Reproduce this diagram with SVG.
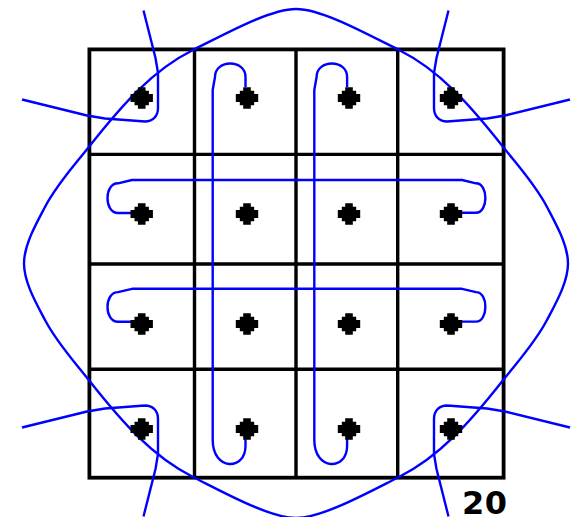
<svg xmlns="http://www.w3.org/2000/svg" xmlns:xlink="http://www.w3.org/1999/xlink" width="580" height="517" viewBox="0 0 580 517">
<defs>
<style>
.grid{fill:none;stroke:#000;stroke-width:3.4}
.border{fill:none;stroke:#000;stroke-width:3.8}
.wire{fill:none;stroke:#0000ff;stroke-width:2.4;stroke-linejoin:round}
.dot{fill:#000}
.label{font-family:"DejaVu Sans","Liberation Sans",sans-serif;font-weight:bold;font-size:32px;fill:#000}
</style>
<path id="dotshape" d="M-3.8,-10.8 H3.8 V-7.3 H7.2 V-4 H11.2 V4 H7.2 V7.3 H3.8 V10.8 H-3.8 V7.3 H-7.2 V4 H-11.2 V-4 H-7.2 V-7.3 H-3.8 Z"/>
<path id="corner" d="M22,99.5 L87,115.5 L105,118.5 L145,121.5 C152,121.5 158,117 158,108 V73 L155.5,58 L143.5,10.5"/>
<path id="vpin" d="M245.5,87 V77 C245.5,59 215,59 215,77 L212.7,90 V440 C212.7,471 245.5,471 245.5,446 V439"/>
<path id="hpin" d="M132,213 H118 C104,213 104,183.3 118,183.3 L132,180 H462 L476,183.3 C488.5,183.3 488.5,212.8 476,212.8 H462"/>
</defs>
<rect width="580" height="517" fill="#fff"/>
<g id="grid">
<rect class="border" x="89.4" y="49.4" width="414.2" height="428.3"/>
<path class="grid" d="M194.5,49.4 V477.7 M296,49.4 V477.7 M397.7,49.4 V477.7 M89.4,154.4 H503.6 M89.4,264 H503.6 M89.4,369.3 H503.6"/>
</g>
<g id="connectors">
<path id="outer-loop" class="wire" d="M296,9 C270,9 225,34 193,50 C153,70 123,103.5 88,148 C73,167 57,184.2 45,207 C36,224.1 24,245 24,263.5 C24,282 36,302.9 45,320 C57,342.8 73,360 88,379 C123,423.5 153,457 193,477 C225,493 270,518 296,518 C322,518 367,493 399,477 C439,457 469,423.5 504,379 C519,360 535,342.8 547,320 C556,302.9 568,282 568,263.5 C568,245 556,224.1 547,207 C535,184.2 519,167 504,148 C469,103.5 439,70 399,50 C367,34 322,9 296,9 Z"/>
<use class="wire" xlink:href="#corner" href="#corner"/>
<use class="wire" xlink:href="#corner" href="#corner" transform="matrix(-1,0,0,1,592,0)"/>
<use class="wire" xlink:href="#corner" href="#corner" transform="matrix(1,0,0,-1,0,527)"/>
<use class="wire" xlink:href="#corner" href="#corner" transform="matrix(-1,0,0,-1,592,527)"/>
<use class="wire" xlink:href="#vpin" href="#vpin"/>
<use class="wire" xlink:href="#vpin" href="#vpin" transform="translate(101.6,0)"/>
<use class="wire" xlink:href="#hpin" href="#hpin"/>
<use class="wire" xlink:href="#hpin" href="#hpin" transform="translate(0,108.8)"/>
</g>
<g id="dot-r1c1"><use class="dot" href="#dotshape" xlink:href="#dotshape" x="141.7" y="98"/></g>
<g id="dot-r1c2"><use class="dot" href="#dotshape" xlink:href="#dotshape" x="247" y="98"/></g>
<g id="dot-r1c3"><use class="dot" href="#dotshape" xlink:href="#dotshape" x="349" y="98"/></g>
<g id="dot-r1c4"><use class="dot" href="#dotshape" xlink:href="#dotshape" x="451" y="98"/></g>
<g id="dot-r2c1"><use class="dot" href="#dotshape" xlink:href="#dotshape" x="141.7" y="214"/></g>
<g id="dot-r2c2"><use class="dot" href="#dotshape" xlink:href="#dotshape" x="247" y="214"/></g>
<g id="dot-r2c3"><use class="dot" href="#dotshape" xlink:href="#dotshape" x="349" y="214"/></g>
<g id="dot-r2c4"><use class="dot" href="#dotshape" xlink:href="#dotshape" x="451" y="214"/></g>
<g id="dot-r3c1"><use class="dot" href="#dotshape" xlink:href="#dotshape" x="141.7" y="324"/></g>
<g id="dot-r3c2"><use class="dot" href="#dotshape" xlink:href="#dotshape" x="247" y="324"/></g>
<g id="dot-r3c3"><use class="dot" href="#dotshape" xlink:href="#dotshape" x="349" y="324"/></g>
<g id="dot-r3c4"><use class="dot" href="#dotshape" xlink:href="#dotshape" x="451" y="324"/></g>
<g id="dot-r4c1"><use class="dot" href="#dotshape" xlink:href="#dotshape" x="141.7" y="429"/></g>
<g id="dot-r4c2"><use class="dot" href="#dotshape" xlink:href="#dotshape" x="247" y="429"/></g>
<g id="dot-r4c3"><use class="dot" href="#dotshape" xlink:href="#dotshape" x="349" y="429"/></g>
<g id="dot-r4c4"><use class="dot" href="#dotshape" xlink:href="#dotshape" x="451" y="429"/></g>
<text class="label" x="462" y="514" letter-spacing="0.5">20</text>
</svg>
